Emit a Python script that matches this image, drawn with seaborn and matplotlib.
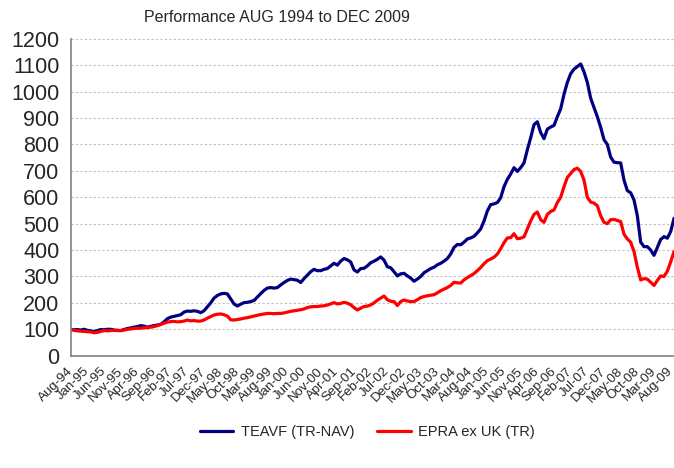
import matplotlib
matplotlib.use('Agg')
import matplotlib.pyplot as plt
import seaborn as sns
import pandas as pd

# monthly index values (Aug-94 = 100)
teavf = [
    100, 98, 99, 97, 100, 96, 94, 91, 95, 99,
    98, 100, 100, 97, 96, 95, 99, 103, 105, 108,
    110, 114, 112, 108, 111, 114, 116, 119, 128, 140,
    146, 149, 152, 155, 165, 169, 168, 170, 168, 163,
    170, 185, 200, 218, 228, 234, 236, 234, 215, 196,
    188, 195, 201, 202, 205, 209, 222, 235, 247, 256,
    258, 256, 258, 268, 277, 285, 290, 288, 286, 277,
    292, 305, 318, 327, 322, 322, 327, 330, 340, 350,
    343, 358, 368, 363, 355, 325, 317, 330, 331, 340,
    352, 358, 365, 374, 362, 337, 333, 318, 302, 310,
    312, 302, 294, 282, 290, 300, 314, 322, 330, 335,
    344, 350, 358, 368, 385, 410, 421, 420, 430, 442,
    446, 452, 465, 480, 510, 548, 572, 575, 580, 598,
    640, 668, 688, 712, 698, 712, 730, 780, 825, 875,
    886, 845, 822, 858, 866, 872, 905, 935, 990, 1035,
    1068, 1085, 1095, 1105, 1075, 1035, 975, 940, 905, 865,
    818, 800, 752, 733, 731, 730, 665, 625, 617, 590,
    530, 430, 413, 413, 400, 380, 410, 440, 451, 445,
    470, 520,
]

epra = [
    100, 96, 94, 93, 92, 91, 90, 87, 88, 92,
    95, 94, 95, 96, 95, 95, 97, 100, 101, 103,
    104, 104, 106, 106, 108, 110, 114, 118, 123, 127,
    129, 130, 128, 129, 131, 135, 132, 133, 131, 131,
    135, 142, 148, 154, 157, 158, 155, 150, 136, 135,
    137, 139, 142, 144, 147, 150, 153, 156, 158, 160,
    160, 159, 160, 160, 162, 165, 168, 170, 172, 174,
    177, 182, 185, 186, 186, 188, 189, 192, 196, 201,
    196, 198, 202, 199, 193, 182, 173, 180, 186, 188,
    192, 200, 210, 218, 226, 212, 206, 205, 190, 205,
    211, 207, 205, 205, 212, 220, 224, 227, 229, 231,
    238, 246, 252, 258, 266, 278, 276, 275, 287, 296,
    303, 311, 322, 334, 348, 360, 366, 373, 385, 405,
    428, 446, 447, 462, 443, 445, 450, 480, 510, 535,
    544, 515, 505, 535, 546, 552, 580, 600, 640, 675,
    690, 705, 710, 698, 665, 600, 582, 578, 568, 530,
    505, 500, 515, 516, 512, 508, 460, 442, 430, 395,
    335, 287, 292, 290, 278, 266, 285, 302, 300, 320,
    355, 394,
]

tick_labels = [
    'Aug-94', 'Jan-95', 'Jun-95', 'Nov-95', 'Apr-96', 'Sep-96', 'Feb-97',
    'Jul-97', 'Dec-97', 'May-98', 'Oct-98', 'Mar-99', 'Aug-99', 'Jan-00',
    'Jun-00', 'Nov-00', 'Apr-01', 'Sep-01', 'Feb-02', 'Jul-02', 'Dec-02',
    'May-03', 'Oct-03', 'Mar-04', 'Aug-04', 'Jan-05', 'Jun-05', 'Nov-05',
    'Apr-06', 'Sep-06', 'Feb-07', 'Jul-07', 'Dec-07', 'May-08', 'Oct-08',
    'Mar-09', 'Aug-09',
]

series_names = ['TEAVF (TR-NAV)', 'EPRA ex UK (TR)']
series_colors = ['#000080', '#FF0000']

sns.set_style('white')
plt.rcParams['font.family'] = ['Liberation Sans', 'DejaVu Sans']

df = pd.DataFrame({
    'month': list(range(len(teavf))) * 2,
    'value': teavf + epra,
    'series': [series_names[0]] * len(teavf) + [series_names[1]] * len(epra),
})

fig = plt.figure(figsize=(6.74, 4.68), dpi=100)
ax = fig.add_axes([0.1049, 0.240, 0.8951, 0.677])

sns.lineplot(data=df, x='month', y='value', hue='series',
             palette=series_colors, linewidth=2.3, ax=ax, legend=True)

ax.set_xlim(0, 181)
ax.set_ylim(0, 1200)
ax.set_yticks(range(0, 1201, 100))
ax.set_xticks(range(0, 5 * len(tick_labels), 5))
ax.set_xticklabels(tick_labels, rotation=45, ha='right', va='center',
                   rotation_mode='anchor', fontsize=9.5)
ax.tick_params(axis='y', labelsize=15.5, length=5, color='#808080', direction='out', pad=3)
ax.tick_params(axis='x', length=5, color='#808080', direction='out', pad=5)
ax.set_xlabel('')
ax.set_ylabel('')

ax.grid(axis='y', color='#c0c0c0', linestyle=(0, (2, 2)), linewidth=0.8)
ax.set_axisbelow(True)
for s in ['top', 'right']:
    ax.spines[s].set_visible(False)
for s in ['left', 'bottom']:
    ax.spines[s].set_color('#808080')
    ax.spines[s].set_linewidth(1.2)

handles, labels = ax.get_legend_handles_labels()
ax.get_legend().remove()
fig.legend(handles, labels, loc='center', bbox_to_anchor=(0.545, 0.077), ncol=2,
           frameon=False, fontsize=10.5, handlelength=2.3, handletextpad=0.5,
           columnspacing=1.6)

fig.text(0.411, 0.962, 'Performance AUG 1994 to DEC 2009', ha='center', va='center', fontsize=11.5)

fig.savefig('out.png', dpi=100)
